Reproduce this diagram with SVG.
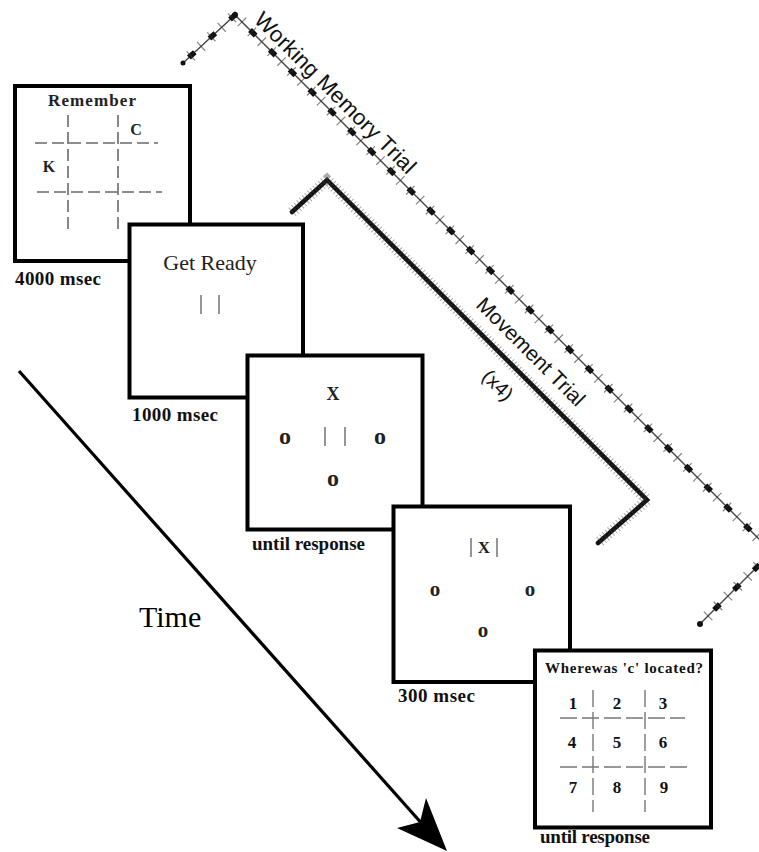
<svg xmlns="http://www.w3.org/2000/svg" width="759" height="852" viewBox="0 0 759 852">
<style>
.box{fill:#fff;stroke:#000;stroke-width:4}
.serif{font-family:"Liberation Serif","Times New Roman",serif}
.lbl{font-family:"Liberation Serif",serif;font-weight:bold;font-size:19px;fill:#111}
.dash{stroke:#6a6a6a;stroke-width:1.6;stroke-dasharray:12 5;fill:none}
.grid{stroke:#777;stroke-width:1.4;stroke-dasharray:17 5;fill:none}
.bar{stroke:#8a8a8a;stroke-width:1.8}
.o{font-family:"Liberation Serif",serif;font-weight:bold;font-size:24px;text-anchor:middle;fill:#222}
.o2{font-family:"Liberation Serif",serif;font-weight:bold;font-size:21px;text-anchor:middle;fill:#222}
.num{font-family:"Liberation Serif",serif;font-weight:bold;font-size:17px;text-anchor:middle;fill:#111}
.sans{font-family:"Liberation Sans",Arial,sans-serif;fill:#111}
</style>
<rect width="759" height="852" fill="#fff"/>

<g id="connectors">
  <!-- Working memory bracket -->
  <polyline points="183,63 235,15 772,552 700,624" fill="none" stroke="#444" stroke-width="1.4"/>
  <polyline points="183,63 235,15 772,552 700,624" fill="none" stroke="#111" stroke-width="5.5" stroke-dasharray="8 20" stroke-dashoffset="-8"/>
  <polyline points="183,63 235,15 772,552 700,624" fill="none" stroke="#333" stroke-width="12" stroke-dasharray="1.2 12.8" stroke-dashoffset="-10" opacity="0.6"/>
  <circle cx="235" cy="15" r="3" fill="#111"/>
  <circle cx="183" cy="63" r="2.5" fill="#111"/>
  <circle cx="700" cy="624" r="3" fill="#111"/>
  <!-- Movement bracket -->
  <polyline points="292,212 327,180 647,500 598,543" fill="none" stroke="#111" stroke-width="4.5" stroke-linecap="round" stroke-linejoin="miter"/>
  <polyline points="292,212 327,180 647,500 598,543" fill="none" stroke="#444" stroke-width="11" stroke-dasharray="1 2.6" opacity="0.45"/>
  <!-- Time arrow -->
  <line x1="19" y1="371" x2="424" y2="826" stroke="#000" stroke-width="3.2"/>
  <polygon points="447,851 397,828 420,822 426,798" fill="#000"/>
</g>

<g id="labels-brackets">
  <text class="sans" font-size="22" textLength="218" transform="translate(253,21) rotate(45)">Working Memory Trial</text>
  <text class="sans" font-size="21" transform="translate(475,306) rotate(45)">Movement Trial</text>
  <text class="sans" font-size="20" text-anchor="middle" transform="translate(498,385) rotate(45)" y="7">(x4)</text>
  <text class="serif" font-size="30" x="139" y="627">Time</text>
</g>

<g id="node-remember">
  <rect class="box" x="15" y="86" width="175" height="175"/>
  <text class="serif" font-size="17" font-weight="bold" x="48" y="106" textLength="88" fill="#222">Remember</text>
  <line class="dash" x1="68" y1="115" x2="68" y2="230"/>
  <line class="dash" x1="118" y1="115" x2="118" y2="230"/>
  <line class="dash" x1="35" y1="143" x2="158" y2="143"/>
  <line class="dash" x1="37" y1="192" x2="162" y2="192"/>
  <text class="serif" font-size="16" font-weight="bold" x="136" y="135" text-anchor="middle" fill="#222">C</text>
  <text class="serif" font-size="16" font-weight="bold" x="49" y="172" text-anchor="middle" fill="#222">K</text>
  <text class="lbl" x="15" y="285" textLength="86">4000 msec</text>
</g>

<g id="node-getready">
  <rect class="box" x="129.5" y="224.5" width="173.5" height="173"/>
  <text class="serif" font-size="22" x="210" y="270" text-anchor="middle" fill="#222">Get Ready</text>
  <line class="bar" x1="201" y1="295" x2="201" y2="314"/>
  <line class="bar" x1="219" y1="295" x2="219" y2="314"/>
  <text class="lbl" x="132" y="421" textLength="86">1000 msec</text>
</g>

<g id="node-movement">
  <rect class="box" x="247.5" y="355.5" width="175" height="174"/>
  <text class="serif" font-size="18" font-weight="bold" x="333" y="400" text-anchor="middle" fill="#222">X</text>
  <line class="bar" x1="325" y1="427" x2="325" y2="446"/>
  <line class="bar" x1="345" y1="427" x2="345" y2="446"/>
  <text class="o" x="285" y="443.5">o</text>
  <text class="o" x="380" y="443.5">o</text>
  <text class="o" x="333" y="485.5">o</text>
  <text class="lbl" x="252" y="550" textLength="113">until response</text>
</g>

<g id="node-feedback">
  <rect class="box" x="393.5" y="506.5" width="176.5" height="175.5"/>
  <line class="bar" x1="471" y1="538" x2="471" y2="557"/>
  <line class="bar" x1="497" y1="538" x2="497" y2="557"/>
  <text class="serif" font-size="17" font-weight="bold" x="484" y="553" text-anchor="middle" fill="#222">X</text>
  <text class="o2" x="435" y="596">o</text>
  <text class="o2" x="530" y="596">o</text>
  <text class="o2" x="483" y="637">o</text>
  <text class="lbl" x="398" y="702" textLength="77">300 msec</text>
</g>

<g id="node-recall">
  <rect class="box" x="535" y="650.5" width="176" height="177"/>
  <text class="serif" font-size="15" font-weight="bold" x="545" y="673" textLength="158" fill="#111">Wherewas 'c' located?</text>
  <line class="grid" x1="593" y1="690" x2="593" y2="812"/>
  <line class="grid" x1="645" y1="690" x2="645" y2="812"/>
  <line class="grid" x1="560" y1="718" x2="685" y2="718"/>
  <line class="grid" x1="560" y1="767" x2="688" y2="767"/>
  <text class="num" x="573" y="709">1</text>
  <text class="num" x="617" y="709">2</text>
  <text class="num" x="663" y="709">3</text>
  <text class="num" x="572" y="748">4</text>
  <text class="num" x="617" y="748">5</text>
  <text class="num" x="663" y="748">6</text>
  <text class="num" x="573" y="793">7</text>
  <text class="num" x="617" y="793">8</text>
  <text class="num" x="664" y="793">9</text>
  <text class="lbl" x="540" y="843" textLength="110">until response</text>
</g>
</svg>
